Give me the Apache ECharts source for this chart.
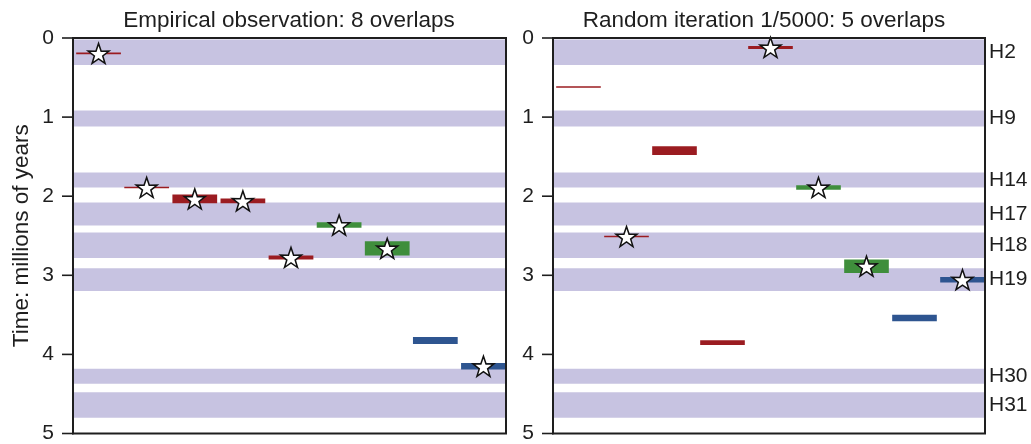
<!DOCTYPE html>
<html>
<head>
<meta charset="utf-8">
<script src="https://cdn.jsdelivr.net/npm/echarts@6/dist/echarts.min.js"></script>
<style>
html,body{margin:0;padding:0;background:#fff;}
#chart{width:1031px;height:444px;}
</style>
</head>
<body>
<div id="chart"></div>
<script>
// ---- data ----
const categories = ['1','2','3','4','5','6','7','8','9'];
const yTicks = [0, 1, 2, 3, 4, 5];

const bandNames = ['H2','H9','H14','H17','H18','H19','H30','H31'];
const bandStart = [0.02, 0.915, 1.70, 2.08, 2.46, 2.91, 4.18, 4.48];
const bandEnd   = [0.34, 1.12, 1.89, 2.37, 2.78, 3.20, 4.37, 4.80];

const leftStart = [0.195, 1.89, 1.98, 2.03, 2.75, 2.33, 2.57, 3.78, 4.11];
const leftEnd   = [0.195, 1.89, 2.09, 2.09, 2.80, 2.40, 2.75, 3.87, 4.19];
const leftGroup = ['red','red','red','red','red','green','green','blue','blue'];
const leftStar  = [1, 1, 1, 1, 1, 1, 1, 0, 1];

const rightStart = [0.62, 2.51, 1.37, 3.82, 0.10, 1.86, 2.80, 3.50, 3.02];
const rightEnd   = [0.62, 2.51, 1.48, 3.88, 0.14, 1.92, 2.97, 3.58, 3.09];
const rightGroup = ['red','red','red','red','red','green','green','blue','blue'];
const rightStar  = [0, 1, 0, 0, 1, 1, 1, 0, 1];

const titles = ['Empirical observation: 8 overlaps', 'Random iteration 1/5000: 5 overlaps'];
const yName = 'Time: millions of years';

// ---- styles ----
const groupColor = { red: '#9b1c21', green: '#3f8e3c', blue: '#2e5590' };
const bandColor = '#c7c3e1';
const inkColor = '#1e1e1e';
const starPath = 'path://M50,0 L61.8,35.1 L97.6,34.5 L69,56.9 L79.4,90.5 L50,70 L20.6,90.5 L31,56.9 L2.4,34.5 L38.2,35.1 Z';
const FONT = 'Liberation Sans, Arial, sans-serif';
const TICK_LEN = 11;

const chart = echarts.init(document.getElementById('chart'), null, { renderer: 'canvas' });

function bandSeries(idx, withLabels) {
  return {
    type: 'custom', xAxisIndex: idx, yAxisIndex: idx, z: 1, silent: true,
    data: bandNames.map((n, i) => [0, bandStart[i], bandEnd[i], n]),
    renderItem: function (params, api) {
      const cs = params.coordSys;
      const y1 = api.coord([0, api.value(1)])[1];
      const y2 = api.coord([0, api.value(2)])[1];
      const children = [{
        type: 'rect',
        shape: { x: cs.x, y: y1, width: cs.width, height: y2 - y1 },
        style: { fill: bandColor }
      }];
      if (withLabels) {
        children.push({
          type: 'text',
          style: {
            x: cs.x + cs.width + 4, y: (y1 + y2) / 2,
            text: bandNames[params.dataIndex],
            fill: inkColor, font: '21px ' + FONT,
            align: 'left', verticalAlign: 'middle'
          }
        });
      }
      return { type: 'group', children: children };
    }
  };
}

function tickSeries(idx) {
  return {
    type: 'custom', xAxisIndex: idx, yAxisIndex: idx, z: 12, silent: true, clip: false,
    data: yTicks.map(v => [0, v]),
    renderItem: function (params, api) {
      const cs = params.coordSys;
      const y = api.coord([0, api.value(1)])[1];
      return {
        type: 'line',
        shape: { x1: cs.x - TICK_LEN, y1: y, x2: cs.x, y2: y },
        style: { stroke: inkColor, lineWidth: 1.6 }
      };
    }
  };
}

function barSeries(idx, starts, ends, groups) {
  return {
    type: 'custom', xAxisIndex: idx, yAxisIndex: idx, z: 3, silent: true,
    data: starts.map((s, i) => ({ value: [i, s, ends[i]], itemStyle: { color: groupColor[groups[i]] } })),
    renderItem: function (params, api) {
      const p1 = api.coord([api.value(0), api.value(1)]);
      const p2 = api.coord([api.value(0), api.value(2)]);
      const w = api.size([1, 0])[0] * 0.93;
      let y = p1[1], h = p2[1] - p1[1];
      if (h < 1.6) { y = (p1[1] + p2[1]) / 2 - 0.8; h = 1.6; }
      return { type: 'rect', shape: { x: p1[0] - w / 2 + 1.5, y: y, width: w, height: h }, style: { fill: api.visual('color') } };
    }
  };
}

function starSeries(idx, starts, ends, flags) {
  const d = [];
  flags.forEach((f, i) => { if (f) d.push([i, (starts[i] + ends[i]) / 2]); });
  return {
    type: 'scatter', xAxisIndex: idx, yAxisIndex: idx, z: 5, silent: true,
    symbol: starPath, symbolSize: [21, 20], symbolOffset: [1.5, 0],
    itemStyle: { color: '#ffffff', borderColor: '#111', borderWidth: 1.5, opacity: 1 },
    data: d
  };
}

const grids = [
  { left: 73, top: 38, width: 433, height: 399 },
  { left: 553, top: 38, width: 432, height: 399 }
];

function yAxis(idx) {
  const ax = {
    type: 'value', gridIndex: idx, inverse: true,
    min: yTicks[0], max: yTicks[yTicks.length - 1], interval: 1,
    axisLine: { show: true, lineStyle: { color: inkColor, width: 2 } },
    axisTick: { show: false },
    axisLabel: { fontSize: 21, color: inkColor, margin: 19, fontFamily: FONT },
    splitLine: { show: false }
  };
  if (idx === 0) {
    ax.name = yName;
    ax.nameLocation = 'middle';
    ax.nameRotate = 90;
    ax.nameGap = 40;
    ax.nameTextStyle = { fontSize: 22.5, color: inkColor, fontFamily: FONT };
  }
  return ax;
}

const option = {
  backgroundColor: '#ffffff',
  animation: false,
  title: [
    { text: titles[0], left: 289, top: 9, textAlign: 'center', padding: 0,
      textStyle: { fontSize: 22.5, fontWeight: 'normal', color: inkColor, fontFamily: FONT } },
    { text: titles[1], left: 764, top: 9, textAlign: 'center', padding: 0,
      textStyle: { fontSize: 22.5, fontWeight: 'normal', color: inkColor, fontFamily: FONT } }
  ],
  grid: grids.map(g => Object.assign({ show: true, borderColor: inkColor, borderWidth: 2, backgroundColor: 'transparent', z: 10 }, g)),
  xAxis: [0, 1].map(i => ({
    type: 'category', gridIndex: i, data: categories, boundaryGap: true,
    axisLine: { show: false }, axisTick: { show: false }, axisLabel: { show: false }, splitLine: { show: false }
  })),
  yAxis: [yAxis(0), yAxis(1)],
  series: [
    bandSeries(0, false),
    bandSeries(1, true),
    barSeries(0, leftStart, leftEnd, leftGroup),
    barSeries(1, rightStart, rightEnd, rightGroup),
    starSeries(0, leftStart, leftEnd, leftStar),
    starSeries(1, rightStart, rightEnd, rightStar),
    tickSeries(0),
    tickSeries(1)
  ]
};
chart.setOption(option);
</script>
</body>
</html>
